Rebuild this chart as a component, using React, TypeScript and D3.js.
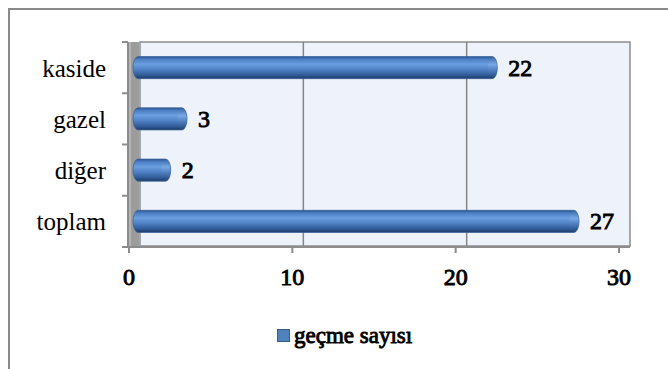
import React from "react";
import * as d3 from "d3";

const categories = ["kaside", "gazel", "diğer", "toplam"];
const values = [22, 3, 2, 27];
const xTicks = [0, 10, 20, 30];
const seriesName = "geçme sayısı";

const W = 668;
const H = 369;
const FONT = "Liberation Serif";

export default function App() {
  // front (axis) plane and the back wall, shifted for the 3D depth
  const x = d3.scaleLinear().domain([0, 30]).range([129, 619]);
  const depth = 11;
  const barShift = 4;
  const y = d3.scaleBand<string>().domain(categories).range([42, 247]).padding(0);
  const barH = y.bandwidth() * 0.43;
  const wallTop = 42;
  const wallBottom = 246;
  const axisY = 247;
  const axisX = 128;

  const gridVals = xTicks.filter((t) => t > 0 && t < 30);
  const reg = { fontFamily: FONT };
  // heavy text: regular face thickened with a thin outline
  const heavy = { fontFamily: FONT, stroke: "#000", strokeWidth: 0.9 };

  return (
    <svg
      width={W}
      height={H}
      lang="tr"
      style={{ position: "absolute", left: 0, top: 0, background: "#fff" }}
    >
      <defs>
        <linearGradient id="barGrad" x1="0" y1="0" x2="0" y2="1">
          <stop offset="0%" stopColor="#2b5590" />
          <stop offset="12%" stopColor="#4c7ec4" />
          <stop offset="35%" stopColor="#6b9fe0" />
          <stop offset="60%" stopColor="#4d7fc2" />
          <stop offset="85%" stopColor="#2f5a96" />
          <stop offset="100%" stopColor="#1c3a66" />
        </linearGradient>
        <linearGradient id="capGrad" x1="0" y1="0" x2="0" y2="1">
          <stop offset="0%" stopColor="#3a68a8" />
          <stop offset="35%" stopColor="#7aaae6" />
          <stop offset="70%" stopColor="#4674b4" />
          <stop offset="100%" stopColor="#22467a" />
        </linearGradient>
      </defs>

      {/* chart area border */}
      <rect x={9} y={9} width={700} height={400} fill="none" stroke="#8a8a8a" strokeWidth={2} />

      {/* back wall */}
      <rect
        x={x(0) + depth}
        y={wallTop}
        width={x(30) - x(0)}
        height={wallBottom - wallTop}
        fill="#eef2fa"
        stroke="#8c8c8c"
        strokeWidth={1.5}
      />
      {gridVals.map((v) => (
        <line
          key={v}
          x1={x(v) + depth}
          x2={x(v) + depth}
          y1={wallTop}
          y2={wallBottom}
          stroke="#868686"
          strokeWidth={1.5}
        />
      ))}

      {/* side wall */}
      <rect x={axisX} y={wallTop} width={depth} height={axisY - wallTop} fill="#9c9c9c" />
      <rect x={axisX} y={wallTop} width={3} height={axisY - wallTop} fill="#b4b4b4" />

      {/* value axis */}
      <line x1={axisX - 6} x2={x(30) + depth} y1={axisY} y2={axisY} stroke="#8c8c8c" strokeWidth={2} />
      {xTicks.map((t) => (
        <g key={t}>
          <line x1={x(t)} x2={x(t)} y1={axisY} y2={axisY + 6} stroke="#8c8c8c" strokeWidth={2} />
          <text
            x={x(t)}
            y={285}
            textAnchor="middle"
            fontSize={24}
            fill="#000"
            fontFamily={FONT}
            style={heavy}
          >
            {String(t)}
          </text>
        </g>
      ))}

      {/* category axis */}
      <line x1={axisX} x2={axisX} y1={wallTop} y2={axisY} stroke="#8c8c8c" strokeWidth={2} />
      {[...categories.map((c) => y(c) as number), 247].map((v, i) => (
        <line key={i} x1={axisX - 6} x2={axisX} y1={v} y2={v} stroke="#8c8c8c" strokeWidth={2} />
      ))}
      {categories.map((c) => (
        <text
          key={c}
          x={106}
          y={(y(c) as number) + y.bandwidth() / 2 + 9}
          textAnchor="end"
          fontSize={25}
          fill="#000"
          style={reg}
        >
          {c}
        </text>
      ))}

      {/* bars */}
      {categories.map((c, i) => {
        const cy = (y(c) as number) + y.bandwidth() / 2;
        const x0 = x(0) + barShift;
        const x1 = x(values[i]) + barShift;
        const capR = 5;
        return (
          <g key={c}>
            <rect
              x={x0}
              y={cy - barH / 2}
              width={x1 - x0 + capR}
              height={barH}
              rx={capR}
              ry={barH / 2}
              fill="url(#barGrad)"
              stroke="#3b6399"
              strokeWidth={0.8}
            />
            <ellipse cx={x1} cy={cy} rx={capR - 0.5} ry={barH / 2 - 0.5} fill="url(#capGrad)" opacity={0.85} />
            <text
              x={x1 + capR + 11}
              y={cy + 8}
              fontSize={24}
              fill="#000"
              fontFamily={FONT}
              style={heavy}
            >
              {String(values[i])}
            </text>
          </g>
        );
      })}

      {/* legend */}
      <rect x={277.5} y={329.5} width={12} height={12} fill="#4f81bd" stroke="#385d8a" strokeWidth={1} />
      <text x={294} y={343} fontSize={23} fill="#000" style={heavy}>
        {seriesName}
      </text>
    </svg>
  );
}
